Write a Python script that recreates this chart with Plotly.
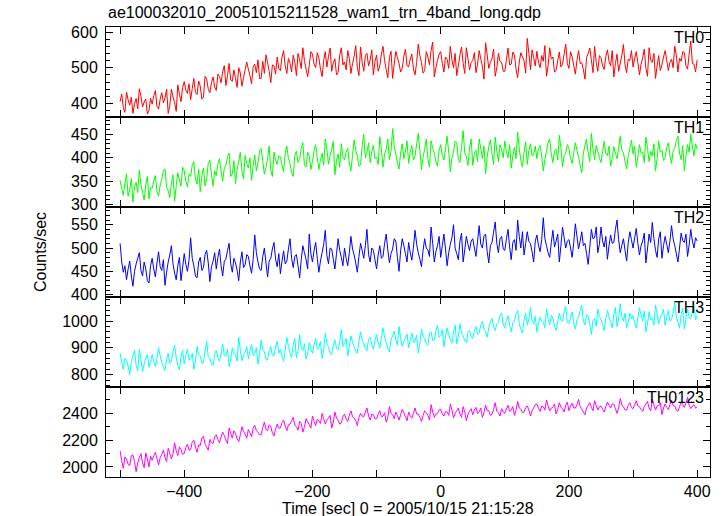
import plotly.graph_objects as go
from plotly.subplots import make_subplots

# Time bins (sec), 2.5 s resolution from -500 to 400
t_start, t_step, n_bins = -500.0, 2.5, 361
time_sec = [t_start + i * t_step for i in range(n_bins)]

th0 = [405, 426, 388, 375, 432, 410, 395, 418, 372, 398, 414, 385, 441, 420, 390, 404, 412, 370, 380, 415,
       398, 422, 436, 392, 384, 412, 430, 401, 415, 440, 372, 395, 440, 418, 402, 378, 452, 426, 405, 445,
       461, 437, 428, 455, 410, 442, 470, 430, 425, 463, 448, 412, 418, 476, 468, 440, 430, 458, 474, 446,
       436, 482, 475, 458, 488, 506, 450, 478, 512, 466, 462, 494, 470, 445, 500, 485, 448, 472, 495, 516,
       496, 478, 455, 502, 510, 486, 522, 470, 470, 518, 484, 536, 515, 490, 458, 508, 505, 482, 530, 498,
       492, 530, 548, 505, 484, 526, 512, 488, 535, 515, 478, 540, 522, 498, 556, 520, 496, 475, 506, 545,
       538, 510, 500, 542, 528, 496, 475, 520, 545, 502, 532, 555, 490, 514, 525, 480, 486, 535, 556, 508,
       516, 494, 548, 526, 484, 512, 532, 562, 500, 478, 558, 515, 490, 534, 540, 505, 522, 550, 480, 518,
       535, 490, 505, 538, 560, 520, 495, 472, 528, 546, 470, 510, 546, 528, 512, 488, 498, 532, 552, 506,
       502, 524, 538, 496, 480, 515, 566, 534, 515, 485, 492, 545, 530, 508, 548, 572, 474, 500, 520, 538,
       545, 512, 488, 530, 524, 498, 560, 522, 500, 540, 478, 505, 536, 558, 512, 484, 556, 526, 494, 515,
       520, 542, 486, 510, 548, 525, 504, 468, 570, 536, 498, 515, 526, 552, 476, 500, 540, 518, 515, 490,
       490, 522, 555, 508, 510, 544, 535, 496, 472, 516, 542, 530, 520, 485, 582, 540, 495, 550, 528, 505,
       546, 515, 500, 534, 518, 562, 476, 505, 556, 524, 530, 488, 492, 520, 544, 502, 510, 538, 566, 512,
       498, 545, 530, 506, 482, 520, 548, 512, 514, 495, 468, 528, 540, 555, 522, 486, 560, 515, 490, 534,
       528, 505, 495, 532, 550, 518, 505, 548, 474, 512, 538, 490, 512, 535, 565, 508, 486, 524, 520, 548,
       502, 526, 545, 514, 480, 510, 528, 552, 498, 476, 556, 522, 515, 540, 470, 505, 534, 492, 508, 530,
       548, 520, 492, 515, 524, 500, 560, 535, 488, 526, 518, 545, 542, 505, 496, 538, 575, 512, 510, 488,
       522]

th1 = [352, 334, 320, 345, 366, 318, 331, 356, 305, 338, 348, 326, 374, 342, 326, 310, 342, 360, 312, 336,
       335, 350, 362, 328, 318, 342, 354, 372, 376, 338, 330, 315, 346, 364, 308, 340, 368, 352, 340, 380,
       372, 350, 338, 366, 360, 384, 392, 355, 344, 376, 328, 362, 378, 340, 356, 388, 395, 364, 340, 372,
       362, 386, 398, 370, 350, 378, 384, 402, 410, 360, 366, 394, 345, 375, 392, 412, 372, 355, 405, 388,
       378, 400, 352, 384, 406, 372, 388, 415, 420, 392, 365, 380, 398, 425, 374, 360, 412, 395, 386, 404,
       402, 385, 370, 410, 425, 398, 388, 368, 360, 405, 414, 390, 396, 420, 432, 384, 380, 412, 404, 375,
       392, 415, 428, 400, 375, 396, 410, 384, 440, 418, 386, 405, 418, 435, 364, 395, 408, 380, 430, 402,
       396, 412, 420, 388, 372, 405, 438, 416, 404, 382, 385, 424, 450, 400, 412, 432, 390, 414, 426, 398,
       402, 386, 445, 420, 380, 408, 418, 440, 396, 414, 462, 425, 408, 388, 376, 410, 430, 398, 414, 436,
       388, 412, 426, 395, 404, 430, 452, 415, 375, 402, 418, 440, 398, 380, 436, 420, 410, 392, 382, 416,
       428, 405, 395, 418, 446, 412, 370, 400, 412, 436, 432, 396, 390, 422, 458, 410, 402, 384, 420, 440,
       384, 410, 416, 392, 440, 420, 398, 425, 366, 402, 424, 438, 408, 386, 444, 414, 392, 428, 418, 400,
       436, 412, 400, 428, 378, 404, 422, 398, 455, 420, 394, 380, 412, 434, 386, 416, 430, 404, 406, 425,
       398, 420, 426, 404, 372, 396, 414, 432, 440, 408, 390, 415, 418, 395, 448, 422, 380, 405, 410, 428,
       420, 398, 388, 412, 432, 416, 402, 384, 368, 410, 426, 440, 410, 392, 452, 418, 396, 426, 414, 400,
       390, 414, 435, 408, 405, 425, 382, 400, 424, 410, 398, 420, 446, 416, 410, 392, 376, 404, 420, 438,
       408, 425, 380, 402, 428, 410, 412, 390, 444, 420, 392, 414, 404, 430, 372, 398, 436, 412, 416, 394,
       400, 422, 432, 405, 388, 414, 420, 436, 446, 410, 396, 426, 372, 404, 428, 412, 450, 425, 404, 430,
       418]

th2 = [510, 470, 448, 462, 432, 455, 472, 440, 418, 450, 466, 478, 490, 452, 440, 470, 455, 430, 425, 462,
       478, 455, 438, 468, 492, 460, 452, 475, 420, 448, 470, 485, 505, 466, 446, 432, 462, 480, 430, 458,
       488, 465, 450, 474, 522, 478, 462, 440, 436, 470, 480, 452, 458, 486, 495, 468, 428, 460, 472, 490,
       455, 480, 498, 462, 440, 472, 476, 495, 510, 466, 448, 478, 468, 452, 430, 470, 492, 458, 464, 486,
       482, 462, 446, 475, 528, 490, 470, 455, 452, 482, 500, 468, 438, 472, 478, 498, 512, 476, 460, 488,
       445, 472, 494, 466, 472, 498, 520, 478, 458, 482, 486, 462, 436, 475, 505, 490, 476, 455, 530, 488,
       470, 495, 512, 478, 448, 472, 490, 508, 538, 484, 466, 500, 498, 476, 455, 488, 520, 495, 480, 462,
       500, 478, 462, 490, 525, 498, 485, 468, 448, 482, 510, 495, 478, 505, 540, 486, 470, 500, 495, 475,
       455, 485, 505, 478, 482, 510, 530, 496, 468, 488, 498, 520, 515, 480, 450, 494, 520, 505, 488, 470,
       512, 490, 474, 502, 538, 508, 490, 476, 460, 495, 520, 500, 496, 482, 545, 510, 470, 492, 505, 525,
       480, 505, 530, 498, 462, 490, 508, 522, 550, 500, 488, 475, 515, 532, 470, 496, 525, 508, 495, 515,
       520, 500, 482, 515, 548, 508, 500, 526, 530, 492, 468, 505, 512, 534, 556, 510, 490, 520, 525, 498,
       495, 520, 540, 502, 475, 512, 518, 495, 560, 525, 500, 535, 485, 510, 535, 514, 510, 492, 470, 515,
       528, 506, 492, 518, 565, 520, 505, 490, 480, 512, 538, 502, 515, 530, 470, 505, 545, 522, 500, 515,
       518, 500, 480, 512, 552, 525, 498, 515, 535, 505, 510, 488, 465, 502, 540, 520, 522, 545, 490, 508,
       545, 515, 502, 525, 476, 505, 528, 510, 512, 540, 560, 518, 490, 506, 520, 495, 472, 512, 535, 518,
       500, 522, 542, 510, 485, 505, 515, 532, 468, 498, 530, 512, 555, 520, 495, 480, 520, 535, 478, 505,
       525, 508, 490, 515, 548, 520, 505, 488, 470, 500, 532, 516, 512, 530, 482, 506, 540, 515, 500, 522,
       515]

th3 = [880, 845, 820, 862, 855, 832, 800, 848, 870, 890, 835, 815, 895, 856, 812, 840, 860, 875, 828, 852,
       875, 850, 830, 862, 900, 870, 845, 826, 815, 858, 880, 842, 850, 885, 910, 865, 835, 818, 868, 890,
       840, 872, 895, 855, 858, 880, 820, 850, 905, 875, 870, 842, 845, 888, 925, 866, 862, 838, 835, 878,
       890, 862, 850, 880, 915, 872, 868, 895, 830, 858, 900, 878, 875, 850, 940, 890, 852, 874, 885, 905,
       860, 888, 912, 870, 878, 900, 840, 875, 930, 892, 885, 858, 855, 890, 905, 872, 870, 902, 925, 880,
       895, 870, 850, 892, 940, 905, 880, 865, 912, 935, 862, 888, 950, 900, 890, 915, 858, 878, 920, 898,
       880, 910, 935, 895, 900, 925, 860, 892, 955, 915, 905, 880, 875, 912, 930, 898, 892, 920, 968, 905,
       915, 935, 870, 905, 945, 920, 905, 888, 880, 925, 960, 930, 918, 900, 890, 932, 940, 912, 895, 928,
       950, 918, 900, 935, 975, 940, 920, 898, 885, 930, 945, 962, 930, 910, 980, 935, 905, 925, 935, 952,
       900, 930, 955, 920, 925, 948, 880, 915, 970, 940, 935, 915, 910, 952, 960, 928, 930, 962, 985, 940,
       945, 968, 905, 940, 975, 950, 930, 918, 960, 985, 915, 942, 990, 955, 945, 925, 920, 958, 965, 940,
       935, 962, 980, 950, 955, 985, 1000, 970, 960, 940, 975, 998, 1010, 978, 965, 990, 995, 1020, 1030, 985,
       975, 1002, 1020, 985, 960, 995, 1000, 1025, 1040, 990, 970, 955, 1005, 1030, 985, 1008, 1050, 1000, 990, 1018,
       960, 990, 1015, 1000, 995, 975, 1045, 1010, 985, 1022, 1010, 980, 965, 998, 1030, 1005, 1000, 1035, 1055, 995,
       990, 1012, 1035, 995, 970, 1005, 1015, 1040, 1060, 1000, 985, 1025, 1020, 990, 950, 1002, 1010, 980, 1045, 1018,
       1005, 985, 965, 1010, 1040, 1018, 995, 975, 1025, 1050, 980, 1008, 1065, 1015, 1000, 1030, 975, 995, 1030, 1008,
       1020, 995, 975, 1012, 1050, 1022, 1000, 1038, 960, 990, 1035, 1005, 1010, 985, 1060, 1025, 990, 1015, 1025, 1045,
       985, 1015, 1040, 1000, 1005, 1030, 1070, 1020, 995, 975, 1025, 1048, 970, 1008, 1045, 1012, 1010, 1035, 1055, 1005,
       1020]

th0123 = [2120, 2045, 1990, 2075, 2060, 2020, 2010, 2085, 2090, 2040, 1965, 2030, 2070, 2100, 2030, 1995, 2105, 2060, 2000, 2080,
          2050, 2085, 2110, 2060, 2015, 2070, 2095, 2125, 2070, 2040, 2140, 2100, 2060, 2095, 2180, 2120, 2085, 2150, 2130, 2095,
          2100, 2145, 2170, 2125, 2130, 2185, 2200, 2150, 2110, 2165, 2160, 2215, 2230, 2170, 2150, 2125, 2205, 2180, 2175, 2225,
          2240, 2205, 2180, 2225, 2260, 2235, 2200, 2175, 2290, 2250, 2215, 2270, 2250, 2210, 2190, 2240, 2300, 2265, 2245, 2215,
          2280, 2255, 2225, 2290, 2310, 2270, 2260, 2240, 2240, 2295, 2335, 2280, 2270, 2315, 2300, 2255, 2230, 2285, 2320, 2290,
          2290, 2330, 2350, 2305, 2270, 2315, 2320, 2345, 2370, 2310, 2300, 2275, 2340, 2325, 2260, 2300, 2360, 2335, 2315, 2290,
          2380, 2340, 2310, 2355, 2345, 2325, 2400, 2360, 2320, 2350, 2365, 2385, 2290, 2335, 2410, 2365, 2350, 2320, 2330, 2375,
          2395, 2360, 2340, 2385, 2420, 2375, 2365, 2345, 2310, 2370, 2400, 2380, 2375, 2410, 2440, 2380, 2350, 2395, 2390, 2360,
          2360, 2395, 2420, 2375, 2380, 2405, 2335, 2370, 2450, 2400, 2390, 2360, 2410, 2385, 2350, 2390, 2430, 2405, 2375, 2345,
          2410, 2380, 2365, 2400, 2440, 2395, 2395, 2370, 2340, 2385, 2420, 2405, 2385, 2350, 2465, 2410, 2370, 2395, 2400, 2425,
          2430, 2395, 2380, 2415, 2410, 2385, 2470, 2425, 2365, 2400, 2420, 2440, 2395, 2370, 2450, 2410, 2345, 2390, 2415, 2435,
          2390, 2425, 2445, 2400, 2410, 2440, 2370, 2405, 2460, 2420, 2420, 2385, 2395, 2430, 2480, 2415, 2405, 2380, 2435, 2410,
          2400, 2435, 2460, 2415, 2425, 2450, 2385, 2420, 2490, 2440, 2430, 2405, 2410, 2445, 2455, 2425, 2380, 2420, 2440, 2465,
          2470, 2440, 2415, 2455, 2450, 2425, 2500, 2455, 2420, 2440, 2445, 2470, 2395, 2430, 2480, 2445, 2435, 2410, 2460, 2485,
          2420, 2455, 2475, 2440, 2440, 2465, 2505, 2450, 2430, 2410, 2390, 2440, 2460, 2480, 2445, 2420, 2495, 2460, 2425, 2450,
          2455, 2430, 2410, 2450, 2485, 2460, 2440, 2470, 2470, 2435, 2400, 2445, 2510, 2465, 2450, 2425, 2425, 2460, 2480, 2445,
          2435, 2465, 2495, 2455, 2450, 2430, 2415, 2450, 2470, 2490, 2440, 2420, 2505, 2465, 2425, 2455, 2460, 2480, 2390, 2440,
          2470, 2445, 2430, 2465, 2500, 2460, 2455, 2425, 2415, 2450, 2485, 2465, 2445, 2475, 2520, 2460, 2435, 2455, 2465, 2440,
          2450]

band_names = ["TH0", "TH1", "TH2", "TH3", "TH0123"]
band_values = [th0, th1, th2, th3, th0123]
band_colors = ["#ff0000", "#00ff00", "#0000ff", "#00ffff", "#ff00ff"]
y_ranges = [[362, 614], [295, 487], [395, 588], [754, 1090], [1925, 2597]]
y_dticks = [100, 50, 50, 100, 200]
y_minor = [20, 10, 10, 20, 100]

title_text = "ae100032010_20051015211528_wam1_trn_4band_long.qdp"
x_title = "Time [sec] 0 = 2005/10/15 21:15:28"
y_title = "Counts/sec"

FONT = "Liberation Sans, Arial, Helvetica, sans-serif"
FS = 16

fig = make_subplots(rows=5, cols=1, shared_xaxes=True, vertical_spacing=0)

for i, (name, vals, col) in enumerate(zip(band_names, band_values, band_colors)):
    n = min(len(vals), len(time_sec))
    fig.add_trace(go.Scatter(x=time_sec[:n], y=vals[:n], mode="lines",
                             line=dict(color=col, width=1, simplify=False),
                             name=name, showlegend=False, hoverinfo="skip"),
                  row=i + 1, col=1)
    fig.update_yaxes(range=y_ranges[i], dtick=y_dticks[i], tick0=0,
                     ticks="inside", ticklen=7, tickwidth=1, tickcolor="black",
                     minor=dict(ticks="inside", dtick=y_minor[i], tick0=0,
                                ticklen=4, tickcolor="black", tickwidth=1),
                     showline=True, linecolor="black", linewidth=1,
                     mirror="ticks", showgrid=False, zeroline=False,
                     ticklabelstandoff=4,
                     tickfont=dict(family=FONT, size=FS, color="black"),
                     row=i + 1, col=1)
    fig.update_xaxes(range=[-522, 420], dtick=200, tick0=0,
                     ticks="inside", ticklen=7, tickwidth=1, tickcolor="black",
                     minor=dict(ticks="inside", dtick=100, tick0=0,
                                ticklen=7, tickcolor="black", tickwidth=1),
                     showline=True, linecolor="black", linewidth=1,
                     mirror="ticks", showgrid=False, zeroline=False,
                     tickfont=dict(family=FONT, size=FS, color="black"),
                     showticklabels=(i == 4),
                     row=i + 1, col=1)
    yref = "y domain" if i == 0 else f"y{i + 1} domain"
    xref = "x domain" if i == 0 else f"x{i + 1} domain"
    fig.add_annotation(text=name, xref=xref, yref=yref, x=0.993, y=1.0,
                       xanchor="right", yanchor="top", showarrow=False,
                       font=dict(family=FONT, size=FS, color="black"))

fig.add_annotation(text=title_text, xref="paper", yref="paper",
                   x=0.0, y=1.0, yshift=14, xanchor="left",
                   yanchor="middle", showarrow=False,
                   font=dict(family=FONT, size=FS, color="black"))
fig.add_annotation(text=x_title, xref="paper", yref="paper",
                   x=0.5, y=0.0, yshift=-31, xanchor="center", yanchor="middle",
                   showarrow=False,
                   font=dict(family=FONT, size=FS, color="black"))
fig.add_annotation(text=y_title, xref="paper", yref="paper",
                   x=0.0, y=0.5, xshift=-66, xanchor="center", yanchor="middle",
                   textangle=-90, showarrow=False,
                   font=dict(family=FONT, size=FS, color="black"))

fig.update_layout(width=722, height=516,
                  margin=dict(l=106, r=12, t=27, b=39),
                  paper_bgcolor="white", plot_bgcolor="white",
                  showlegend=False)

fig.write_html("out.html", config={"displayModeBar": False},
               post_script="document.body.style.margin='0';")
